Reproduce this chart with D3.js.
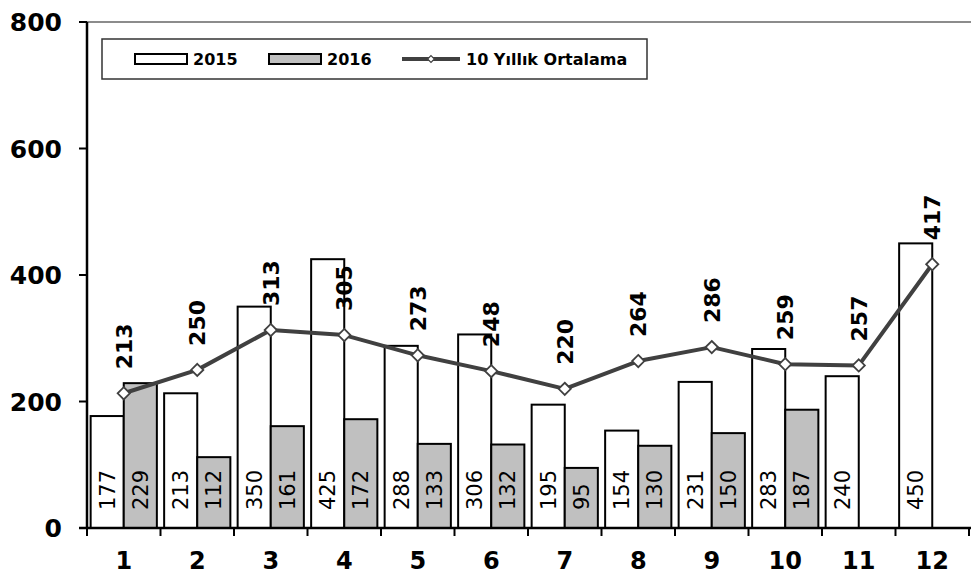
<!DOCTYPE html>
<html>
<head>
<meta charset="utf-8">
<script src="https://cdn.jsdelivr.net/npm/d3@7"></script>
<style>
  body { margin: 0; background: #fff; }
  svg { display: block; font-family: "DejaVu Sans", Tahoma, sans-serif; }
</style>
</head>
<body>
<div id="chart"></div>
<script>
// chart data
const months = ['1', '2', '3', '4', '5', '6', '7', '8', '9', '10', '11', '12'];
const series = ['2015', '2016'];
const values2015 = [177, 213, 350, 425, 288, 306, 195, 154, 231, 283, 240, 450];
const values2016 = [229, 112, 161, 172, 133, 132, 95, 130, 150, 187, null, null];
const average = [213, 250, 313, 305, 273, 248, 220, 264, 286, 259, 257, 417];
const averageName = '10 Yıllık Ortalama';
const yTicks = [0, 200, 400, 600, 800];

const W = 971, H = 575;
const plot = { left: 87, right: 969, top: 22, bottom: 528 };
const lineColor = '#404040';
const fills = { '2015': '#ffffff', '2016': '#c0c0c0' };

const svg = d3.select('#chart').append('svg')
  .attr('width', W)
  .attr('height', H);

const x = d3.scaleBand()
  .domain(months)
  .range([plot.left, plot.right])
  .padding(0);

const xs = d3.scaleBand()
  .domain(series)
  .range([0, x.bandwidth()])
  .paddingInner(0)
  .paddingOuter(0.11);

const y = d3.scaleLinear()
  .domain([0, 800])
  .range([plot.bottom, plot.top]);

// rows: one per month, each with both series
const rows = months.map(function (m, i) {
  return { month: m, vals: [
    { key: '2015', value: values2015[i] },
    { key: '2016', value: values2016[i] }
  ] };
});

// top border of plot area
svg.append('line')
  .attr('x1', plot.left).attr('x2', W)
  .attr('y1', y(800)).attr('y2', y(800))
  .attr('stroke', '#8c8c8c')
  .attr('stroke-width', 2);

// bars
const group = svg.selectAll('.month')
  .data(rows)
  .enter().append('g')
  .attr('class', 'month')
  .attr('transform', function (d) { return 'translate(' + x(d.month) + ',0)'; });

const bar = group.selectAll('.bar')
  .data(function (d) { return d.vals.filter(function (v) { return v.value != null; }); })
  .enter().append('g')
  .attr('class', 'bar');

bar.append('rect')
  .attr('x', function (d) { return xs(d.key); })
  .attr('y', function (d) { return y(d.value); })
  .attr('width', xs.bandwidth())
  .attr('height', function (d) { return y(0) - y(d.value); })
  .attr('fill', function (d) { return fills[d.key]; })
  .attr('stroke', '#000')
  .attr('stroke-width', 2);

// bar values, written upwards from the base
bar.append('text')
  .attr('transform', function (d) {
    return 'translate(' + (xs(d.key) + xs.bandwidth() / 2) + ',' + (y(0) - 18) + ') rotate(-90)';
  })
  .attr('dy', '0.36em')
  .attr('font-size', 21)
  .attr('fill', '#000')
  .text(function (d) { return d.value; });

// axes
const yAxis = svg.append('g');
yAxis.append('line')
  .attr('x1', plot.left).attr('x2', plot.left)
  .attr('y1', y(800)).attr('y2', y(0))
  .attr('stroke', '#000').attr('stroke-width', 2.5);
yAxis.selectAll('.ytick')
  .data(yTicks)
  .enter().append('line')
  .attr('x1', plot.left - 8).attr('x2', plot.left)
  .attr('y1', function (d) { return y(d); })
  .attr('y2', function (d) { return y(d); })
  .attr('stroke', '#000').attr('stroke-width', 2);
yAxis.selectAll('.ylabel')
  .data(yTicks)
  .enter().append('text')
  .attr('x', plot.left - 25)
  .attr('y', function (d) { return y(d); })
  .attr('dy', '0.36em')
  .attr('text-anchor', 'end')
  .attr('font-size', 25)
  .attr('font-weight', 'bold')
  .text(function (d) { return d; });

const xAxis = svg.append('g');
xAxis.append('line')
  .attr('x1', plot.left - 8).attr('x2', W)
  .attr('y1', y(0)).attr('y2', y(0))
  .attr('stroke', '#000').attr('stroke-width', 2.5);
xAxis.selectAll('.xtick')
  .data(months.concat(['end']))
  .enter().append('line')
  .attr('x1', function (d, i) { return plot.left + i * x.step(); })
  .attr('x2', function (d, i) { return plot.left + i * x.step(); })
  .attr('y1', y(0)).attr('y2', y(0) + 8)
  .attr('stroke', '#000').attr('stroke-width', 2);
xAxis.selectAll('.xlabel')
  .data(months)
  .enter().append('text')
  .attr('x', function (d) { return x(d) + x.bandwidth() / 2; })
  .attr('y', 569)
  .attr('text-anchor', 'middle')
  .attr('font-size', 24)
  .attr('font-weight', 'bold')
  .text(function (d) { return d; });

// average line
const pts = average.map(function (v, i) {
  return { x: x(months[i]) + x.bandwidth() / 2, y: y(v), value: v };
});

svg.append('path')
  .datum(pts)
  .attr('fill', 'none')
  .attr('stroke', lineColor)
  .attr('stroke-width', 4)
  .attr('stroke-linejoin', 'round')
  .attr('d', d3.line().x(function (d) { return d.x; }).y(function (d) { return d.y; }));

const diamond = d3.symbol().type(d3.symbolDiamond2).size(95);
svg.selectAll('.marker')
  .data(pts)
  .enter().append('path')
  .attr('transform', function (d) { return 'translate(' + d.x + ',' + d.y + ')'; })
  .attr('d', diamond)
  .attr('fill', '#fff')
  .attr('stroke', lineColor)
  .attr('stroke-width', 1.8);

svg.selectAll('.avglabel')
  .data(pts)
  .enter().append('text')
  .attr('transform', function (d) { return 'translate(' + d.x + ',' + (d.y - 24) + ') rotate(-90)'; })
  .attr('dy', '0.36em')
  .attr('font-size', 22)
  .attr('font-weight', 'bold')
  .attr('fill', '#000')
  .text(function (d) { return d.value; });

// legend
const legend = svg.append('g');
legend.append('rect')
  .attr('x', 102).attr('y', 39)
  .attr('width', 545).attr('height', 40)
  .attr('fill', '#fff')
  .attr('stroke', '#333')
  .attr('stroke-width', 1.5);

const legendItems = [
  { key: '2015', sx: 135, tx: 193 },
  { key: '2016', sx: 269, tx: 327 }
];
legendItems.forEach(function (it) {
  legend.append('rect')
    .attr('x', it.sx).attr('y', 54)
    .attr('width', 52).attr('height', 10)
    .attr('fill', fills[it.key])
    .attr('stroke', '#000')
    .attr('stroke-width', 2);
  legend.append('text')
    .attr('x', it.tx).attr('y', 59)
    .attr('dy', '0.36em')
    .attr('font-size', 16)
    .attr('font-weight', 'bold')
    .text(it.key);
});
legend.append('line')
  .attr('x1', 402).attr('x2', 460)
  .attr('y1', 59).attr('y2', 59)
  .attr('stroke', lineColor)
  .attr('stroke-width', 4);
legend.append('path')
  .attr('transform', 'translate(431,59)')
  .attr('d', d3.symbol().type(d3.symbolDiamond2).size(30))
  .attr('fill', '#fff')
  .attr('stroke', lineColor)
  .attr('stroke-width', 1.2);
legend.append('text')
  .attr('x', 466).attr('y', 59)
  .attr('dy', '0.36em')
  .attr('font-size', 16)
  .attr('font-weight', 'bold')
  .text(averageName);
</script>
</body>
</html>
